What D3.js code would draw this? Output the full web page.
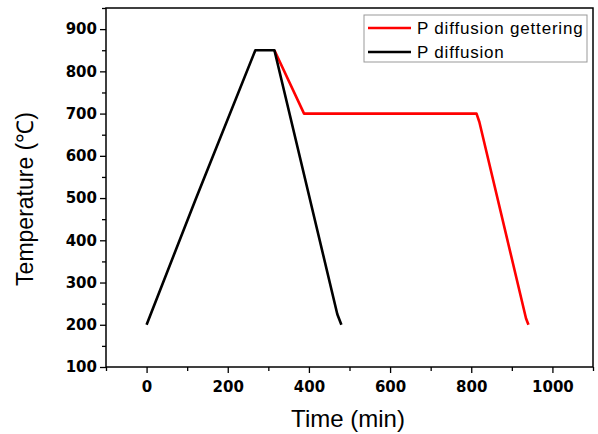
<!DOCTYPE html>
<html>
<head>
<meta charset="utf-8">
<script src="https://d3js.org/d3.v7.min.js"></script>
<style>
body { margin: 0; background: #fff; }
text { font-family: Arial, "Liberation Sans", sans-serif; }
</style>
</head>
<body>
<script>
// series: time (min), temperature (C)
var gettering = [[315, 850], [388, 700], [813, 700], [820, 680], [935, 215], [941, 200]];
var diffusion = [[0, 200], [120, 495], [268, 850], [315, 850], [470, 225], [480, 200]];
var seriesNames = ['P diffusion gettering', 'P diffusion'];
var seriesColors = ['#ff0000', '#000000'];
var xTicks = [0, 200, 400, 600, 800, 1000];
var yTicks = [100, 200, 300, 400, 500, 600, 700, 800, 900];

var W = 598, H = 434;
var margin = { top: 8, right: 5, bottom: 67, left: 106 };
var width = W - margin.left - margin.right,
	height = H - margin.top - margin.bottom;

var svg = d3.select('body').append('svg')
	.attr('width', W)
	.attr('height', H);

var g = svg.append('g')
	.attr('transform', `translate(${margin.left}, ${margin.top})`);

var x = d3.scaleLinear().domain([-100, 1100]).range([0, width]);
var y = d3.scaleLinear().domain([100, 950]).range([height, 0]);

// minor ticks first
g.append('g')
	.attr('transform', `translate(0, ${height})`)
	.call(d3.axisBottom(x).tickValues(d3.range(-100, 1101, 200)).tickSize(4).tickFormat(''))
	.call(a => a.select('.domain').remove())
	.selectAll('line').attr('stroke-width', 1.3);

g.append('g')
	.call(d3.axisLeft(y).tickValues(d3.range(150, 951, 100)).tickSize(4).tickFormat(''))
	.call(a => a.select('.domain').remove())
	.selectAll('line').attr('stroke-width', 1.3);

// major ticks
var xAxis = g.append('g')
	.attr('transform', `translate(0, ${height})`)
	.call(d3.axisBottom(x).tickValues(xTicks).tickFormat(d3.format('d')).tickSize(6).tickSizeOuter(0).tickPadding(8));

var yAxis = g.append('g')
	.call(d3.axisLeft(y).tickValues(yTicks).tickFormat(d3.format('d')).tickSize(6).tickSizeOuter(0).tickPadding(3));

[xAxis, yAxis].forEach(function(a) {
	a.select('.domain').remove();
	a.selectAll('line').attr('stroke-width', 1.3);
	a.selectAll('text')
		.attr('fill', '#000')
		.style('font-family', '"DejaVu Sans", sans-serif')
		.style('font-weight', 'bold')
		.style('font-size', '15px');
});

// frame
g.append('rect')
	.attr('width', width)
	.attr('height', height)
	.attr('fill', 'none')
	.attr('stroke', '#000')
	.attr('stroke-width', 1.5);

var line = d3.line()
	.x(function(d) { return x(d[0]); })
	.y(function(d) { return y(d[1]); });

[gettering, diffusion].forEach(function(s, i) {
	g.append('path')
		.datum(s)
		.attr('d', line)
		.attr('fill', 'none')
		.attr('stroke', seriesColors[i])
		.attr('stroke-width', 2.6)
		.attr('stroke-linejoin', 'round');
});

// axis titles
svg.append('text')
	.attr('x', 348)
	.attr('y', 427)
	.attr('text-anchor', 'middle')
	.style('font-size', '24px')
	.text('Time (min)');

svg.append('text')
	.attr('transform', 'translate(33, 199) rotate(-90)')
	.attr('text-anchor', 'middle')
	.style('font-size', '23px')
	.text('Temperature (℃)');

// legend
var legend = svg.append('g').attr('transform', 'translate(364, 15)');
legend.append('rect')
	.attr('width', 223)
	.attr('height', 47)
	.attr('fill', '#fff')
	.attr('stroke', '#999')
	.attr('stroke-width', 1);

seriesNames.forEach(function(name, i) {
	var row = legend.append('g').attr('transform', `translate(0, ${13 + i * 24})`);
	row.append('line')
		.attr('x1', 4).attr('x2', 47)
		.attr('stroke', seriesColors[i])
		.attr('stroke-width', 2.6);
	row.append('text')
		.attr('x', 53)
		.attr('y', 6)
		.style('font-size', '17px')
		.style('letter-spacing', '0.8px')
		.text(name);
});
</script>
</body>
</html>
